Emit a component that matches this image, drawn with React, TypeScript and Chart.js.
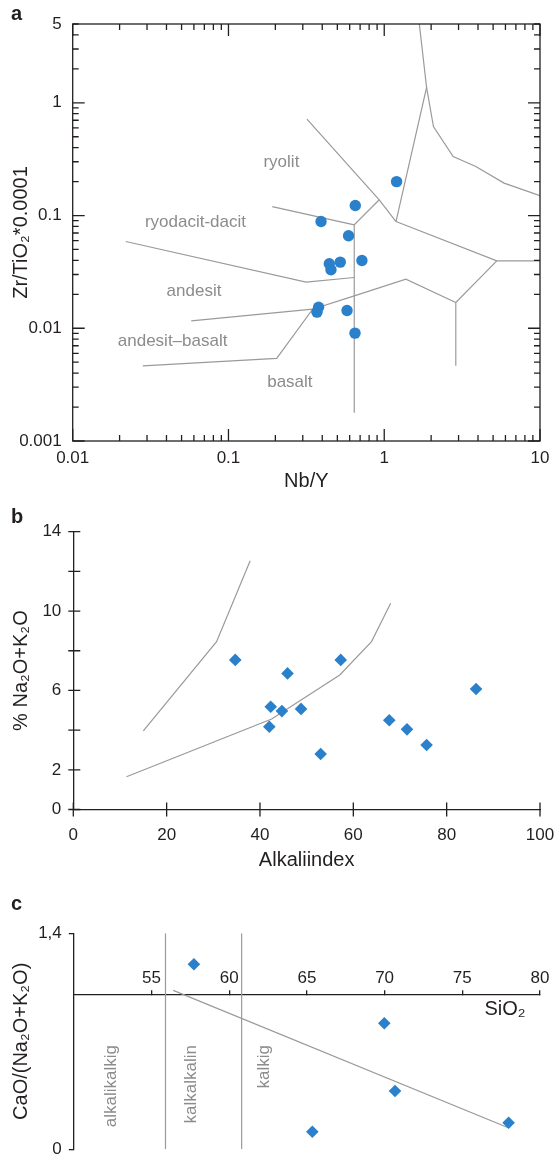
import React, { useEffect, useRef } from 'react';
import { Chart, registerables } from 'chart.js';

Chart.register(...registerables);

const FONT = "'Liberation Sans', Arial, Helvetica, sans-serif";
const INK = '#231f20';
const GRAY_LINE = '#9a9a9a';
const GRAY_TEXT = '#8c8c8c';
const BLUE = '#2a80ca';

// ---------- Panel a: Zr/TiO2*0.0001 vs Nb/Y (log-log) ----------
const aNbY = [1.2, 0.652, 0.393, 0.59, 0.444, 0.455, 0.522, 0.719, 0.379, 0.37, 0.577, 0.649];
const aZrTi = [0.2, 0.1227, 0.0885, 0.0661, 0.0373, 0.033, 0.0386, 0.0399, 0.01538, 0.0139, 0.01436, 0.00905];
const aXTicks = [0.01, 0.1, 1, 10];
const aYTicks = [0.001, 0.01, 0.1, 1, 5];
// field boundaries [Nb/Y, Zr/TiO2]
const aLine1 = [[1.68, 5.0], [1.87, 1.37], [1.19, 0.0885]];
const aLine2 = [[1.87, 1.37], [2.07, 0.616], [2.77, 0.334], [3.87, 0.272], [5.88, 0.194], [10, 0.15]];
const aLine3 = [[0.319, 0.717], [0.929, 0.138], [1.19, 0.0885]];
const aLine4 = [[0.929, 0.138], [0.642, 0.0827], [0.642, 0.00178]];
const aLine5 = [[0.191, 0.12], [0.642, 0.0827]];
const aLine6 = [[1.19, 0.0885], [5.28, 0.0396], [10, 0.0396]];
const aLine7 = [[5.28, 0.0396], [2.88, 0.0169], [2.88, 0.00464]];
const aLine8 = [[2.88, 0.0169], [1.377, 0.0273], [0.642, 0.0194], [0.347, 0.01477], [0.204, 0.0054], [0.0282, 0.00464]];
const aLine9 = [[0.0577, 0.01163], [0.347, 0.01477]];
const aLine10 = [[0.0219, 0.0588], [0.315, 0.02565], [0.642, 0.0282]];
const aFields = ['ryolit', 'ryodacit-dacit', 'andesit', 'andesit–basalt', 'basalt'];

// ---------- Panel b: % Na2O+K2O vs Alkaliindex ----------
const bAlkali = [34.7, 42.3, 42.0, 44.7, 45.9, 48.8, 53.0, 57.3, 67.7, 71.5, 75.7, 86.3];
const bNaK = [7.54, 5.18, 4.17, 4.96, 6.86, 5.07, 2.8, 7.54, 4.5, 4.04, 3.25, 6.07];
const bYLabels = [0, 2, 6, 10, 14];
const bCurve1 = [[15.0, 3.96], [30.7, 8.46], [37.9, 12.54]];
const bCurve2 = [[11.4, 1.65], [42.5, 4.56], [57.1, 6.78], [63.9, 8.46], [68.0, 10.39]];

// ---------- Panel c: CaO/(Na2O+K2O) vs SiO2 ----------
const cSiO2 = [57.73, 69.98, 70.67, 65.35, 77.98];
const cRatio = [1.199, 0.817, 0.378, 0.114, 0.172];
const cXTicks = [55, 60, 65, 70, 75, 80];
const cYTicks = [0, 1.4];
const cBounds = [55.9, 60.8];
const cTrend = [[56.4, 1.03], [77.96, 0.14]];
const cFields = ['alkalikalkig', 'kalkalkalin', 'kalkig'];

type Note = { text: string; x: number; y: number; rot?: number; align?: CanvasTextAlign; color?: string; size?: number };

const notesPlugin = (notes: Note[]) => ({
  id: 'notes',
  afterDatasetsDraw(chart: any) {
    const { ctx, scales } = chart;
    for (const n of notes) {
      ctx.save();
      ctx.translate(scales.x.getPixelForValue(n.x), scales.y.getPixelForValue(n.y));
      if (n.rot) ctx.rotate(n.rot);
      ctx.font = `${n.size ?? 17}px ${FONT}`;
      ctx.fillStyle = n.color ?? GRAY_TEXT;
      ctx.textAlign = n.align ?? 'center';
      ctx.textBaseline = 'middle';
      ctx.fillText(n.text, 0, 0);
      ctx.restore();
    }
  },
});

const logFramePlugin = {
  id: 'logFrame',
  afterDatasetsDraw(chart: any) {
    const { ctx, chartArea: a, scales } = chart;
    const marks = (min: number, max: number) => {
      const out: { v: number; major: boolean }[] = [];
      for (let e = Math.floor(Math.log10(min)); e <= Math.ceil(Math.log10(max)); e++) {
        for (let m = 1; m <= 9; m++) {
          const v = m * Math.pow(10, e);
          if (v >= min * 0.9999 && v <= max * 1.0001) out.push({ v, major: m === 1 });
        }
      }
      return out;
    };
    ctx.save();
    ctx.strokeStyle = INK;
    ctx.lineWidth = 1.3;
    ctx.strokeRect(a.left, a.top, a.right - a.left, a.bottom - a.top);
    ctx.beginPath();
    for (const t of marks(scales.x.min, scales.x.max)) {
      const p = scales.x.getPixelForValue(t.v);
      const len = t.major ? 12 : 6;
      ctx.moveTo(p, a.bottom);
      ctx.lineTo(p, a.bottom - len);
      ctx.moveTo(p, a.top);
      ctx.lineTo(p, a.top + len);
    }
    for (const t of marks(scales.y.min, scales.y.max)) {
      const p = scales.y.getPixelForValue(t.v);
      const len = t.major ? 12 : 6;
      ctx.moveTo(a.left, p);
      ctx.lineTo(a.left + len, p);
      ctx.moveTo(a.right, p);
      ctx.lineTo(a.right - len, p);
    }
    ctx.stroke();
    ctx.restore();
  },
};

const crossTicksPlugin = {
  id: 'crossTicks',
  afterDraw(chart: any) {
    const { ctx, chartArea: a, scales } = chart;
    ctx.save();
    ctx.strokeStyle = INK;
    ctx.lineWidth = 1.3;
    ctx.beginPath();
    for (const t of scales.y.ticks) {
      const p = scales.y.getPixelForValue(t.value);
      ctx.moveTo(a.left - 5, p);
      ctx.lineTo(a.left + 7, p);
    }
    for (const t of scales.x.ticks) {
      const p = scales.x.getPixelForValue(t.value);
      ctx.moveTo(p, a.bottom - 7);
      ctx.lineTo(p, a.bottom + 7);
    }
    ctx.stroke();
    ctx.restore();
  },
};

const lineSet = (pts: number[][]) => ({
  data: pts.map(([x, y]) => ({ x, y })),
  showLine: true,
  borderColor: GRAY_LINE,
  borderWidth: 1.2,
  pointRadius: 0,
  fill: false,
  tension: 0,
});

const zeroPad = (s: any) => {
  s.paddingLeft = 0;
  s.paddingRight = 0;
  s.paddingTop = 0;
  s.paddingBottom = 0;
};

const base = {
  animation: false,
  responsive: false,
  devicePixelRatio: 1,
  events: [],
  plugins: { legend: { display: false }, tooltip: { enabled: false } },
};

function makeA(): any {
  return {
    type: 'scatter',
    data: {
      datasets: [
        {
          data: aNbY.map((x, i) => ({ x, y: aZrTi[i] })),
          pointRadius: 5.7,
          pointBackgroundColor: BLUE,
          pointBorderWidth: 0,
          pointStyle: 'circle',
        },
        ...[aLine1, aLine2, aLine3, aLine4, aLine5, aLine6, aLine7, aLine8, aLine9, aLine10].map(lineSet),
      ],
    },
    options: {
      ...base,
      layout: { padding: { left: 0, top: 24, right: 15, bottom: 0 } },
      scales: {
        x: {
          type: 'logarithmic',
          min: 0.01,
          max: 10,
          afterBuildTicks: (s: any) => { s.ticks = aXTicks.map((value) => ({ value })); },
          afterFit: (s: any) => { s.height = 54; zeroPad(s); },
          grid: { display: false, drawTicks: false },
          border: { display: false },
          ticks: { autoSkip: false, maxRotation: 0, padding: 7, color: INK, font: { size: 17, family: FONT }, callback: (v: any) => String(v) },
          title: { display: true, text: 'Nb/Y', color: INK, font: { size: 20, family: FONT }, padding: { top: 0, bottom: 1.5 } },
        },
        y: {
          type: 'logarithmic',
          min: 0.001,
          max: 5,
          afterBuildTicks: (s: any) => { s.ticks = aYTicks.map((value) => ({ value })); },
          afterFit: (s: any) => { s.width = 72.7; zeroPad(s); },
          grid: { display: false, drawTicks: false },
          border: { display: false },
          ticks: { autoSkip: false, padding: 11, color: INK, font: { size: 17, family: FONT }, callback: (v: any) => String(v) },
          title: { display: true, text: 'Zr/TiO₂*0.0001', color: INK, font: { size: 20, family: FONT }, padding: { top: 9.7, bottom: 0 } },
        },
      },
    },
    plugins: [
      logFramePlugin,
      notesPlugin([
        { text: aFields[0], x: 0.2187, y: 0.2936 },
        { text: aFields[1], x: 0.0614, y: 0.0879 },
        { text: aFields[2], x: 0.0601, y: 0.02147 },
        { text: aFields[3], x: 0.0438, y: 0.00773 },
        { text: aFields[4], x: 0.2478, y: 0.003345 },
      ]),
    ],
  };
}

function makeB(): any {
  return {
    type: 'scatter',
    data: {
      datasets: [
        {
          data: bAlkali.map((x, i) => ({ x, y: bNaK[i] })),
          pointRadius: 6.3,
          pointBackgroundColor: BLUE,
          pointBorderWidth: 0,
          pointStyle: 'rectRot',
        },
        lineSet(bCurve1),
        lineSet(bCurve2),
      ],
    },
    options: {
      ...base,
      layout: { padding: { left: 0, top: 36.7, right: 15, bottom: 0 } },
      scales: {
        x: {
          type: 'linear',
          min: 0,
          max: 100,
          ticks: { stepSize: 20, autoSkip: false, maxRotation: 0, padding: 15.3, color: INK, font: { size: 17, family: FONT }, callback: (v: any) => String(v) },
          afterFit: (s: any) => { s.height = 70.5; zeroPad(s); },
          grid: { display: false, drawTicks: false },
          border: { display: true, color: INK, width: 1.3 },
          title: { display: true, text: 'Alkaliindex', color: INK, font: { size: 20, family: FONT }, padding: { top: 0, bottom: 8 } },
        },
        y: {
          type: 'linear',
          min: 0,
          max: 14,
          ticks: { stepSize: 2, autoSkip: false, padding: 12, color: INK, font: { size: 17, family: FONT }, callback: (v: any) => (bYLabels.includes(v) ? String(v) : '') },
          afterFit: (s: any) => { s.width = 73.3; zeroPad(s); },
          grid: { display: false, drawTicks: false },
          border: { display: true, color: INK, width: 1.3 },
          title: { display: true, text: '% Na₂O+K₂O', color: INK, font: { size: 20, family: FONT }, padding: { top: 9.7, bottom: 0 } },
        },
      },
    },
    plugins: [crossTicksPlugin],
  };
}

function makeC(): any {
  return {
    type: 'scatter',
    data: {
      datasets: [
        {
          data: cSiO2.map((x, i) => ({ x, y: cRatio[i] })),
          pointRadius: 6.3,
          pointBackgroundColor: BLUE,
          pointBorderWidth: 0,
          pointStyle: 'rectRot',
        },
        ...cBounds.map((b) => lineSet([[b, cYTicks[0]], [b, cYTicks[1]]])),
        lineSet(cTrend),
      ],
    },
    options: {
      ...base,
      layout: { padding: { left: 0, top: 53.3, right: 15, bottom: 9.7 } },
      scales: {
        x: {
          type: 'linear',
          min: 50,
          max: 80,
          position: { y: 1 },
          afterBuildTicks: (s: any) => { s.ticks = cXTicks.map((value) => ({ value })); },
          afterFit: (s: any) => { zeroPad(s); },
          ticks: { autoSkip: false, maxRotation: 0, padding: -21.8, color: INK, font: { size: 17, family: FONT }, callback: (v: any) => String(v) },
          grid: { display: true, drawOnChartArea: false, drawTicks: true, tickLength: -5, color: INK, lineWidth: 1.3 },
          border: { display: true, color: INK, width: 1.3 },
        },
        y: {
          type: 'linear',
          min: 0,
          max: 1.4,
          afterBuildTicks: (s: any) => { s.ticks = cYTicks.map((value) => ({ value })); },
          afterFit: (s: any) => { s.width = 73.8; zeroPad(s); },
          ticks: { autoSkip: false, padding: 7, color: INK, font: { size: 17, family: FONT }, callback: (v: any) => String(v).replace('.', ',') },
          grid: { display: true, drawOnChartArea: false, drawTicks: true, tickLength: 5, color: INK, lineWidth: 1.3 },
          border: { display: true, color: INK, width: 1.3 },
          title: { display: true, text: 'CaO/(Na₂O+K₂O)', color: INK, font: { size: 20, family: FONT }, padding: { top: 9.7, bottom: 0 } },
        },
      },
    },
    plugins: [
      notesPlugin([
        { text: cFields[0], x: 52.44, y: 0.676, rot: -Math.PI / 2, align: 'right' },
        { text: cFields[1], x: 57.59, y: 0.676, rot: -Math.PI / 2, align: 'right' },
        { text: cFields[2], x: 62.24, y: 0.676, rot: -Math.PI / 2, align: 'right' },
        { text: 'SiO₂', x: 77.75, y: 0.903, color: INK, size: 20 },
      ]),
    ],
  };
}

function ChartCanvas({ top, height, make }: { top: number; height: number; make: () => any }) {
  const ref = useRef<HTMLCanvasElement | null>(null);
  useEffect(() => {
    if (!ref.current) return;
    const chart = new Chart(ref.current, make());
    return () => chart.destroy();
  }, []);
  return (
    <canvas
      ref={ref}
      width={555}
      height={height}
      style={{ position: 'absolute', left: 0, top, width: 555, height, display: 'block' }}
    />
  );
}

const panelLabel = (text: string, top: number) => (
  <div
    style={{
      position: 'absolute',
      left: 11,
      top,
      fontFamily: FONT,
      fontWeight: 'bold',
      fontSize: 20,
      lineHeight: '20px',
      color: INK,
    }}
  >
    {text}
  </div>
);

export default function App() {
  Chart.defaults.font.family = FONT;
  return (
    <div style={{ position: 'absolute', left: 0, top: 0, width: 555, height: 1159, background: '#fff', overflow: 'hidden' }}>
      <ChartCanvas top={0} height={495} make={makeA} />
      <ChartCanvas top={495} height={385} make={makeB} />
      <ChartCanvas top={880} height={279} make={makeC} />
      {panelLabel('a', 3)}
      {panelLabel('b', 506)}
      {panelLabel('c', 893)}
    </div>
  );
}
